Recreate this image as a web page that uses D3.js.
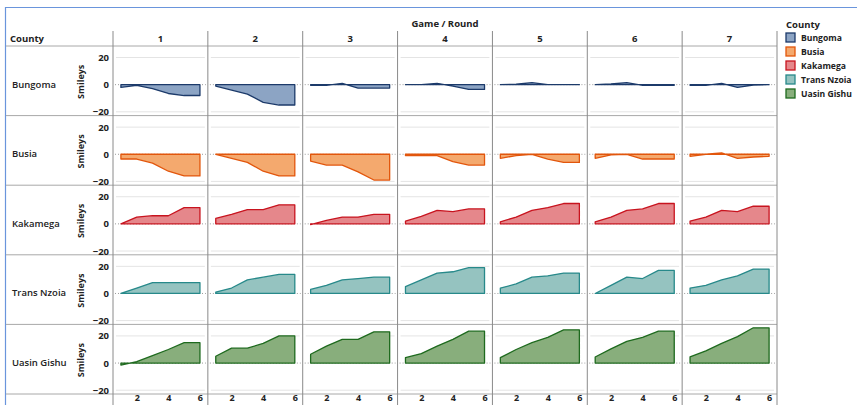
<!DOCTYPE html>
<html><head><meta charset="utf-8">
<script src="https://cdn.jsdelivr.net/npm/d3@7"></script>
<style>
html,body{margin:0;padding:0;background:#fff;}
svg text{font-family:"Open Sans","Noto Sans",sans-serif;}
</style></head>
<body><svg id="c" width="857" height="405"></svg>
<script>
const counties = ["Bungoma","Busia","Kakamega","Trans Nzoia","Uasin Gishu"];
const rounds = ["1","2","3","4","5","6","7"];
const games = [1,2,3,4,5,6];
const yTicks = [20,0,-20];
const xTicks = [2,4,6];
// values per county, per round (7), per game 1..6
const bungoma = [
  [-2,-0.5,-3,-6.5,-8,-8],
  [-1,-4,-7,-13,-15,-15],
  [-0.5,-0.5,1,-2.5,-2.5,-2.5],
  [0,0,1,-1,-3.5,-3.5],
  [0,0.3,1.5,0,0,0],
  [0,0.5,1.5,-0.5,-0.5,-0.5],
  [-0.5,-0.5,1,-2,-0.3,0]
];
const busia = [
  [-3.5,-3.5,-6.5,-12.5,-16,-16],
  [0,-3,-6,-12.5,-16,-16],
  [-5,-8,-8,-13,-19,-19],
  [-1,-1,-1,-5.5,-8,-8],
  [-3,-1,0,-3.5,-6,-6],
  [-3,-0.5,0,-3.5,-3.5,-3.5],
  [-1.5,0,1,-3,-2,-1.5]
];
const kakamega = [
  [0,5,6,6,12,12],
  [4,7,10.5,10.5,14,14],
  [-0.5,2.5,5,5,7,7],
  [2,5.5,10,9,11,11],
  [1.5,5,10,12,15,15],
  [1.5,5,10,11,15,15],
  [2,5,10,9,13,13]
];
const transNzoia = [
  [0,4,8,8,8,8],
  [1,4,10,12,14,14],
  [3,6,10,11,12,12],
  [5,10,15,16,19,19],
  [4,7,12,13,15,15],
  [0,6,12,11,17,17],
  [4,6,10,13,18,18]
];
const uasinGishu = [
  [-1.5,1,5.5,10,15,15],
  [5,11,11,14.5,20,20],
  [6.5,12.5,17.5,17.5,23,23],
  [4,7,12.5,17.5,23.5,23.5],
  [4,10,15,19,24.5,24.5],
  [4.5,10.5,16,19,23.5,23.5],
  [4.5,9,14.5,19.5,26,26]
];
const seriesValues = [bungoma,busia,kakamega,transNzoia,uasinGishu];
const fills = ["#8ca4c4","#f4a96e","#e5878b","#95c3c0","#88ae7c"];
const strokes = ["#1c3a6a","#e2560c","#c8141f","#27898a","#1e6a1e"];

const svg = d3.select("#c");
const L = 113, R = 777, T = 46, B = 394;
const colX = d3.scaleBand().domain(rounds).range([L,R]).padding(0);
const rowY = d3.scaleBand().domain(counties).range([T,B]).padding(0);
const cw = colX.bandwidth(), rh = rowY.bandwidth();

// outer frame
svg.append("line").attr("x1",5).attr("x2",857).attr("y1",7.5).attr("y2",7.5).attr("stroke","#6a95dc").attr("stroke-width",1.2);
svg.append("line").attr("x1",5.5).attr("x2",5.5).attr("y1",7).attr("y2",405).attr("stroke","#6a95dc").attr("stroke-width",1.2);

// headers
svg.append("text").attr("x",(L+R)/2).attr("y",27).attr("text-anchor","middle")
  .attr("font-size",9.5).attr("font-weight",700).attr("fill","#222").text("Game / Round");
svg.append("text").attr("x",10).attr("y",42).attr("font-size",9.5).attr("font-weight",700).attr("fill","#222").text("County");
rounds.forEach(r=>{
  svg.append("text").attr("x",colX(r)+cw/2).attr("y",42).attr("text-anchor","middle")
    .attr("font-size",9.5).attr("font-weight",700).attr("fill","#222").text(r);
});

// row separators
const seps = [T].concat(counties.map(c=>rowY(c)+rh));
seps.forEach(y=>{
  svg.append("line").attr("x1",6).attr("x2",R).attr("y1",y).attr("y2",y).attr("stroke","#a8a8a8").attr("stroke-width",1);
});

// cells
counties.forEach((c,ci)=>{
  const y0 = rowY(c);
  const y = d3.scaleLinear().domain([-22.8,28.5]).range([y0+rh,y0]);
  // row label
  svg.append("text").attr("x",12).attr("y",y(0)+3).attr("font-size",9.5).attr("font-weight",600).attr("fill","#222").text(c);
  svg.append("text").attr("transform",`translate(${84},${y0+rh/2+1}) rotate(-90)`).attr("text-anchor","middle")
    .attr("font-size",9).attr("font-weight",700).attr("fill","#222").text("Smileys");
  // y axis
  const ax = svg.append("g").attr("transform",`translate(${L-4},0)`)
    .call(d3.axisLeft(y).tickValues(yTicks).tickSize(0).tickPadding(0).tickFormat(d3.format("d")));
  ax.select(".domain").remove();
  ax.selectAll("text").attr("font-size",9.5).attr("font-weight",700).attr("fill","#222").attr("font-family","Open Sans, Noto Sans, sans-serif");

  rounds.forEach((r,ri)=>{
    const x = d3.scaleLinear().domain([0.5,6.5]).range([colX(r),colX(r)+cw]);
    const g = svg.append("g");
    [20,-20].forEach(v=>{
      g.append("line").attr("x1",colX(r)+3).attr("x2",colX(r)+cw-3).attr("y1",y(v)).attr("y2",y(v))
        .attr("stroke","#e4e4e4").attr("stroke-width",1);
    });
    g.append("line").attr("x1",colX(r)+2).attr("x2",colX(r)+cw-2).attr("y1",y(0)).attr("y2",y(0))
      .attr("stroke","#9a9a9a").attr("stroke-width",1).attr("stroke-dasharray","1,2");
    const vals = seriesValues[ci][ri];
    const data = games.map((gm,i)=>({g:gm,v:vals[i]}));
    const area = d3.area().x(d=>x(d.g)).y0(y(0)).y1(d=>y(d.v));
    g.append("path").attr("d",area(data)+"Z").attr("fill",fills[ci]).attr("stroke",strokes[ci])
      .attr("stroke-width",1.3).attr("stroke-linejoin","round");
  });
});

// vertical column separators
const vx = [L].concat(rounds.map(r=>colX(r)+cw));
vx.forEach(xv=>{
  svg.append("line").attr("x1",xv).attr("x2",xv).attr("y1",31).attr("y2",405).attr("stroke","#8a8a8a").attr("stroke-width",1);
});

// bottom x axes
rounds.forEach(r=>{
  const x = d3.scaleLinear().domain([0.5,6.5]).range([colX(r),colX(r)+cw]);
  const ax = svg.append("g").attr("transform",`translate(0,${B})`)
    .call(d3.axisBottom(x).tickValues(xTicks).tickSize(0).tickPadding(1).tickFormat(d3.format("d")));
  ax.select(".domain").remove();
  ax.selectAll("text").attr("font-size",9).attr("font-weight",700).attr("fill","#222").attr("font-family","Open Sans, Noto Sans, sans-serif");
});

// legend
const lg = svg.append("g");
lg.append("text").attr("x",786).attr("y",28).attr("font-size",9.5).attr("font-weight",700).attr("fill","#222").text("County");
counties.forEach((c,i)=>{
  const yy = 37.5 + i*14;
  lg.append("rect").attr("x",786).attr("y",yy-4.5).attr("width",9).attr("height",9)
    .attr("fill",fills[i]).attr("stroke",strokes[i]).attr("stroke-width",1.3);
  lg.append("text").attr("x",801).attr("y",yy+3.5).attr("font-size",8.6).attr("font-weight",700).attr("fill","#222").text(c);
});
</script></body></html>
